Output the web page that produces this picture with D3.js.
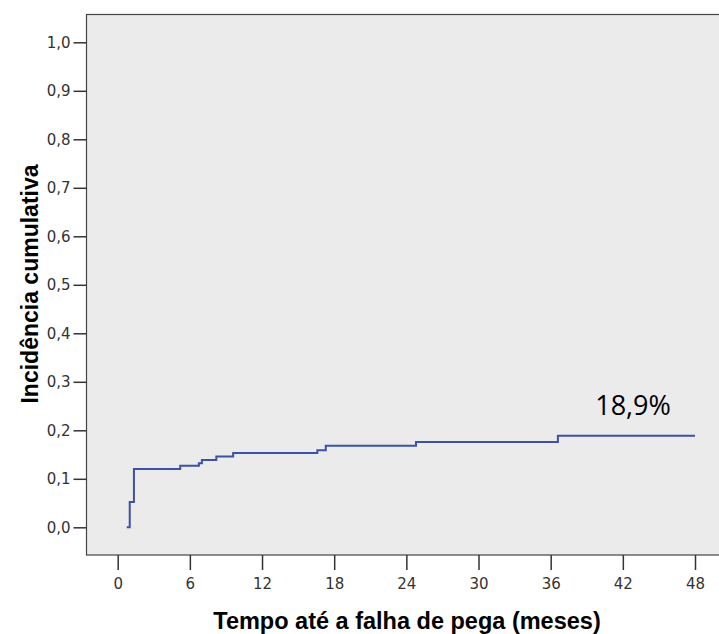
<!DOCTYPE html>
<html>
<head>
<meta charset="utf-8">
<script src="https://cdn.jsdelivr.net/npm/d3@7"></script>
<style>
  body { margin: 0; background: #fff; }
</style>
</head>
<body>
<svg id="chart" width="719" height="634"></svg>
<script>
// tempo (meses) e incidência cumulativa
var meses = [0.75, 1.0, 1.35, 5.2, 6.75, 7.0, 8.2, 9.6, 16.6, 17.3, 24.8, 36.6, 48];
var incidencia = [0, 0.052, 0.12, 0.127, 0.132, 0.139, 0.146, 0.153, 0.159, 0.168, 0.176, 0.189, 0.189];
var xTicks = [0, 6, 12, 18, 24, 30, 36, 42, 48];
var yTicks = [0, 0.1, 0.2, 0.3, 0.4, 0.5, 0.6, 0.7, 0.8, 0.9, 1.0];
var rotulo = "18,9%";

var svg = d3.select("#chart");

var x = d3.scaleLinear().domain([0, 48]).range([117.7, 695]);
var y = d3.scaleLinear().domain([0, 1]).range([527.3, 42.3]);

var fmt = function(d) { return d3.format(".1f")(d).replace(".", ","); };

// area do grafico
svg.append("rect")
  .attr("x", 86.5).attr("y", 14.5)
  .attr("width", 640).attr("height", 540.5)
  .style("fill", "#ebebeb")
  .style("stroke", "#444")
  .style("stroke-width", 1.2);

var yAxis = svg.append("g")
  .attr("transform", "translate(86.5,0)")
  .call(d3.axisLeft(y).tickValues(yTicks).tickFormat(fmt).tickSize(13).tickPadding(3));

var xAxis = svg.append("g")
  .attr("transform", "translate(0,555)")
  .call(d3.axisBottom(x).tickValues(xTicks).tickSize(15).tickPadding(8));

[yAxis, xAxis].forEach(function(a) {
  a.select(".domain").remove();
  a.selectAll(".tick line").style("stroke", "#333").style("stroke-width", 1.5);
  a.selectAll(".tick text")
    .style("font-family", "DejaVu Sans, sans-serif")
    .style("font-size", "15px")
    .style("fill", "#333");
});

var linha = d3.line()
  .x(function(d, i) { return x(meses[i]); })
  .y(function(d) { return y(d); })
  .curve(d3.curveStepAfter);

svg.append("path")
  .datum(incidencia)
  .attr("d", linha)
  .style("fill", "none")
  .style("stroke", "#3e50a8")
  .style("stroke-width", 2);

svg.append("text")
  .attr("x", 633).attr("y", 414.5)
  .attr("text-anchor", "middle")
  .text(rotulo)
  .style("font-family", "Open Sans, sans-serif")
  .style("font-size", "27px")
  .style("fill", "#000");

svg.append("text")
  .attr("x", 407).attr("y", 629)
  .attr("text-anchor", "middle")
  .text("Tempo até a falha de pega (meses)")
  .style("font-family", "Liberation Sans, Arial, sans-serif")
  .style("font-weight", "bold")
  .style("font-size", "23.5px")
  .style("fill", "#000");

svg.append("text")
  .attr("transform", "translate(38,284) rotate(-90)")
  .attr("text-anchor", "middle")
  .text("Incidência cumulativa")
  .style("font-family", "Liberation Sans, Arial, sans-serif")
  .style("font-weight", "bold")
  .style("font-size", "23px")
  .style("fill", "#000");
</script>
</body>
</html>
